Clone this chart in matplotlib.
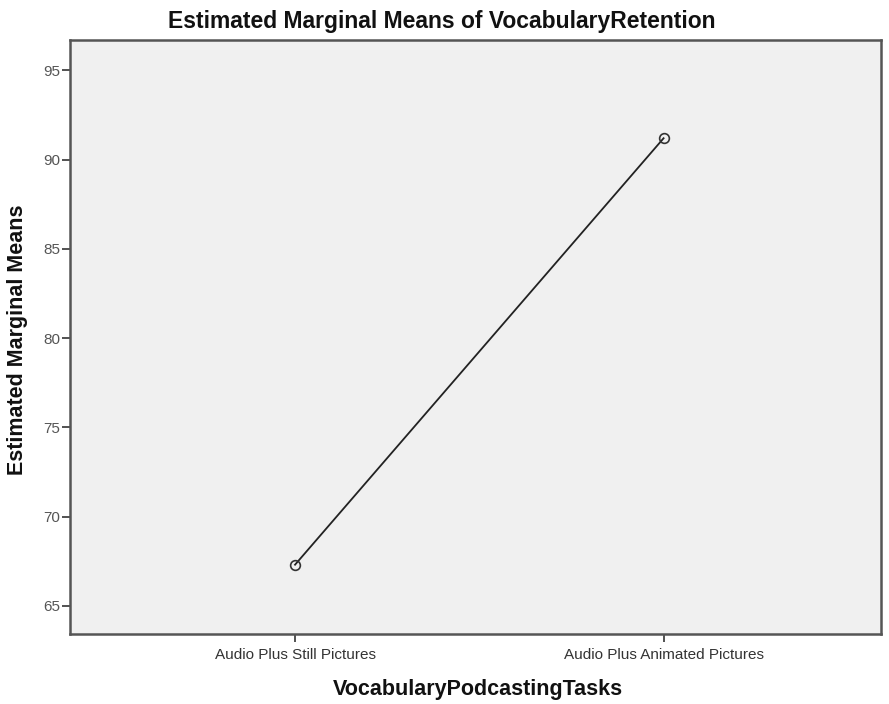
import matplotlib
matplotlib.use("Agg")
import matplotlib.pyplot as plt

# data
categories = ["Audio Plus Still Pictures", "Audio Plus Animated Pictures"]
means = [67.3, 91.2]
y_ticks = [65, 70, 75, 80, 85, 90, 95]

plt.rcParams['font.family'] = ['Liberation Sans', 'DejaVu Sans']

fig = plt.figure(figsize=(8.89, 7.04), dpi=100)
ax = fig.add_axes([0.079, 0.099, 0.912, 0.844])
ax.set_facecolor('#f0f0f0')

x = list(range(len(categories)))
ax.plot(x, means, color='#222222', linewidth=1.3, marker='o', markersize=7,
        markerfacecolor='none', markeredgecolor='#333333', markeredgewidth=1.2)

ax.set_xlim(-0.61, 1.59)
ax.set_ylim(63.4, 96.7)
ax.set_xticks(x)
ax.set_xticklabels(categories, fontsize=11, color='#333333')
ax.set_yticks(y_ticks)
ax.set_yticklabels([str(t) for t in y_ticks], fontsize=11, color='#555555')
ax.tick_params(axis='both', length=6, width=1.2, color='#333333')
ax.tick_params(axis='x', pad=4)
ax.tick_params(axis='y', pad=1)

for s in ax.spines.values():
    s.set_color('#555555')
    s.set_linewidth(1.8)

fig.text(0.497, 0.960, "Estimated Marginal Means of VocabularyRetention",
         fontsize=16.5, fontweight='bold', ha='center', va='baseline', color='#111111')
fig.text(0.538, 0.0128, "VocabularyPodcastingTasks", fontsize=15.5,
         fontweight='bold', ha='center', va='baseline', color='#111111')
fig.text(0.0197, 0.517, "Estimated Marginal Means", fontsize=15.5,
         fontweight='bold', ha='center', va='center', rotation=90, color='#111111')

fig.savefig("out.png", dpi=100)
